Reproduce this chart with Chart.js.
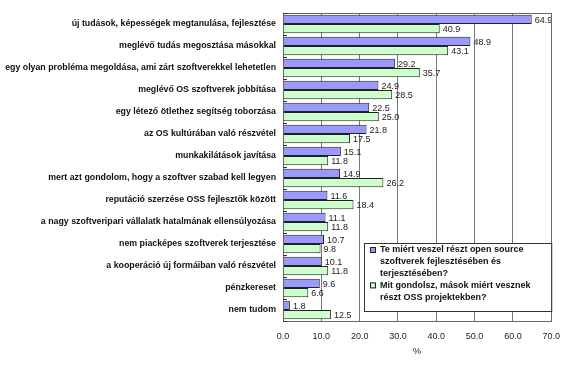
<!DOCTYPE html>
<html>
<head>
<meta charset="utf-8">
<script src="https://cdn.jsdelivr.net/npm/chart.js@4/dist/chart.umd.min.js"></script>
<style>
html,body{margin:0;padding:0;background:#fff;}
#wrap{width:570px;height:368px;position:relative;}
</style>
</head>
<body>
<div id="wrap"><canvas id="c" width="570" height="368"></canvas></div>
<script>
const categories = [
  "új tudások, képességek megtanulása, fejlesztése",
  "meglévő tudás megosztása másokkal",
  "egy olyan probléma megoldása, ami zárt szoftverekkel lehetetlen",
  "meglévő OS szoftverek jobbítása",
  "egy létező ötlethez segítség toborzása",
  "az OS kultúrában való részvétel",
  "munkakilátások javítása",
  "mert azt gondolom, hogy a szoftver szabad kell legyen",
  "reputáció szerzése OSS fejlesztők között",
  "a nagy szoftveripari vállalatk hatalmának ellensúlyozása",
  "nem piacképes szoftverek terjesztése",
  "a kooperáció új formáiban való részvétel",
  "pénzkereset",
  "nem tudom"
];
const ownReasons = [64.9, 48.9, 29.2, 24.9, 22.5, 21.8, 15.1, 14.9, 11.6, 11.1, 10.7, 10.1, 9.6, 1.8];
const othersReasons = [40.9, 43.1, 35.7, 28.5, 25.0, 17.5, 11.8, 26.2, 18.4, 11.8, 9.8, 11.8, 6.6, 12.5];
const seriesLabels = [
  ["Te miért veszel részt open source", "szoftverek fejlesztésében és", "terjesztésében?"],
  ["Mit gondolsz, mások miért vesznek", "részt OSS projektekben?"]
];
const xTicks = [0, 10, 20, 30, 40, 50, 60, 70];
const axisTitle = "%";

const BLUE = "#9999ff";
const GREEN = "#ccffcc";

const valueLabels = {
  id: "valueLabels",
  afterDatasetsDraw(chart) {
    const ctx = chart.ctx;
    ctx.save();
    ctx.font = "9px 'Liberation Sans', Arial, sans-serif";
    ctx.fillStyle = "#222";
    ctx.textBaseline = "middle";
    ctx.textAlign = "left";
    chart.data.datasets.forEach((ds, di) => {
      const meta = chart.getDatasetMeta(di);
      meta.data.forEach((el, i) => {
        ctx.fillText(ds.data[i].toFixed(1), el.x + 3, el.y + 1);
      });
    });
    ctx.restore();
  }
};

const frameAndLegend = {
  id: "frameAndLegend",
  afterDraw(chart) {
    const ctx = chart.ctx;
    const a = chart.chartArea;
    ctx.save();
    ctx.strokeStyle = "#666";
    ctx.lineWidth = 1;
    ctx.strokeRect(Math.round(a.left) + 0.5, Math.round(a.top) + 0.5, Math.round(a.right - a.left), Math.round(a.bottom - a.top));
    ctx.strokeStyle = "#333";
    ctx.beginPath();
    for (let i = 0; i <= categories.length; i++) {
      const yy = Math.round(a.top + (a.bottom - a.top) * i / categories.length) + 0.5;
      ctx.moveTo(a.left, yy);
      ctx.lineTo(a.left + 4, yy);
    }
    ctx.stroke();
    const lx = 364, ly = 243, lw = a.right - 364, lh = 68;
    ctx.fillStyle = "#fff";
    ctx.fillRect(lx, ly, lw, lh);
    ctx.strokeStyle = "#333";
    ctx.strokeRect(lx + 0.5, ly + 0.5, lw, lh);
    ctx.font = "bold 9px 'Liberation Sans', Arial, sans-serif";
    ctx.textBaseline = "middle";
    ctx.textAlign = "left";
    const colors = [BLUE, GREEN];
    let ty = ly + 7;
    seriesLabels.forEach((lines, si) => {
      ctx.fillStyle = colors[si];
      ctx.fillRect(lx + 6, ty - 3, 6, 6);
      ctx.strokeStyle = "#222";
      ctx.strokeRect(lx + 6.5, ty - 2.5, 5, 5);
      ctx.fillStyle = "#111";
      lines.forEach((ln, li) => {
        ctx.fillText(ln, lx + 16, ty + li * 11.8);
      });
      ty += lines.length * 11.8;
    });
    ctx.restore();
  }
};

new Chart(document.getElementById("c"), {
  type: "bar",
  data: {
    labels: categories,
    datasets: [
      { label: seriesLabels[0].join(" "), data: ownReasons, backgroundColor: BLUE, borderColor: "#222", borderWidth: 1 },
      { label: seriesLabels[1].join(" "), data: othersReasons, backgroundColor: GREEN, borderColor: "#222", borderWidth: 1 }
    ]
  },
  options: {
    indexAxis: "y",
    responsive: false,
    animation: false,
    devicePixelRatio: 1,
    layout: { padding: { top: 13, right: 16, left: 0, bottom: 11 } },
    datasets: { bar: { categoryPercentage: 0.84, barPercentage: 1.0 } },
    plugins: { legend: { display: false }, tooltip: { enabled: false } },
    scales: {
      x: {
        min: 0, max: 70,
        afterBuildTicks(scale) { scale.ticks = xTicks.map(v => ({ value: v })); },
        afterFit(scale) { scale.height = 36; },
        grid: { color: "#777", drawTicks: false },
        border: { color: "#666" },
        ticks: {
          padding: 10,
          color: "#222",
          font: { family: "'Liberation Sans', Arial, sans-serif", size: 9 },
          callback: v => Number(v).toFixed(1)
        },
        title: {
          display: true, text: axisTitle, color: "#222", padding: { top: 2, bottom: 0 },
          font: { family: "'Liberation Sans', Arial, sans-serif", size: 9 }
        }
      },
      y: {
        afterFit(scale) { scale.width = 283; },
        grid: { display: false, drawTicks: false },
        border: { color: "#333" },
        ticks: {
          padding: 7,
          color: "#111",
          autoSkip: false,
          font: { family: "'Liberation Sans', Arial, sans-serif", size: 8.8, weight: "bold" }
        }
      }
    }
  },
  plugins: [valueLabels, frameAndLegend]
});
</script>
</body>
</html>
